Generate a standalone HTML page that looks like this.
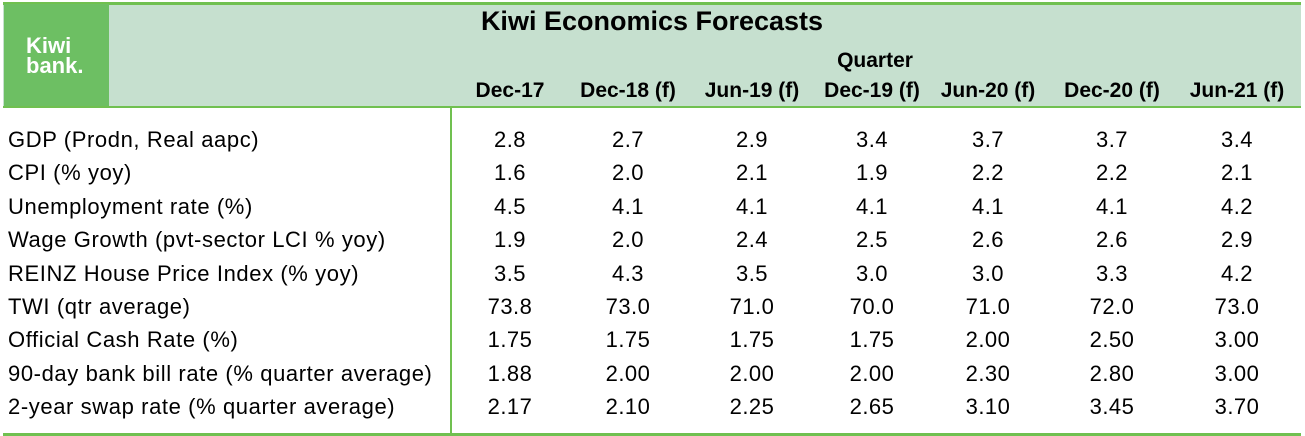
<!DOCTYPE html>
<html><head><meta charset="utf-8"><style>
body{margin:0;width:1305px;height:436px;background:#fff;position:relative;overflow:hidden;font-family:"Liberation Sans",sans-serif;color:#000}
.a{position:absolute;white-space:nowrap}
.c{transform:translateX(-50%)}
</style></head><body>
<div class="a" style="left:3px;top:3px;width:1298px;height:103px;background:#c6e0cf"></div>
<div class="a" style="left:3px;top:2px;width:1298px;height:3px;background:#70c050"></div>
<div class="a" style="left:3px;top:106px;width:1298px;height:2px;background:#70c050"></div>
<div class="a" style="left:3px;top:433px;width:1298px;height:3px;background:#70c050"></div>
<div class="a" style="left:450px;top:107px;width:2px;height:327px;background:#70c050"></div>
<div class="a" style="left:4px;top:4px;width:105px;height:102px;background:#6dbf63"></div>
<div class="a" style="left:26px;top:36px;color:#fff;font-weight:bold;font-size:22px;line-height:20px">Kiwi<br>bank.</div>
<div class="a c" style="left:652px;top:6px;font-weight:bold;font-size:27px">Kiwi Economics Forecasts</div>
<div class="a c" style="left:875px;top:49px;font-weight:bold;font-size:21px">Quarter</div>
<div id="t"></div>
<script>
const periods=["Dec-17","Dec-18 (f)","Jun-19 (f)","Dec-19 (f)","Jun-20 (f)","Dec-20 (f)","Jun-21 (f)"];
const indicators=["GDP (Prodn, Real aapc)","CPI (% yoy)","Unemployment rate (%)","Wage Growth (pvt-sector LCI % yoy)","REINZ House Price Index (% yoy)","TWI (qtr average)","Official Cash Rate (%)","90-day bank bill rate (% quarter average)","2-year swap rate (% quarter average)"];
const values=[
["2.8","2.7","2.9","3.4","3.7","3.7","3.4"],
["1.6","2.0","2.1","1.9","2.2","2.2","2.1"],
["4.5","4.1","4.1","4.1","4.1","4.1","4.2"],
["1.9","2.0","2.4","2.5","2.6","2.6","2.9"],
["3.5","4.3","3.5","3.0","3.0","3.3","4.2"],
["73.8","73.0","71.0","70.0","71.0","72.0","73.0"],
["1.75","1.75","1.75","1.75","2.00","2.50","3.00"],
["1.88","2.00","2.00","2.00","2.30","2.80","3.00"],
["2.17","2.10","2.25","2.65","3.10","3.45","3.70"]];
const colX=[510,628,752,872,988,1112,1237];
const t=document.getElementById('t');
function mk(txt,x,y,cls,st){const d=document.createElement('div');d.className='a '+cls;d.textContent=txt;d.style.left=x+'px';d.style.top=y+'px';d.style.cssText+=st;t.appendChild(d);return d;}
periods.forEach((p,i)=>{const d=mk(p,colX[i],79,'c','font-weight:bold;font-size:21px');

});
indicators.forEach((r,j)=>{const y=127+j*33.4;
const d=mk(r,8,y,'','font-size:22px;letter-spacing:0.6px');


values[j].forEach((v,i)=>{const c=mk(v,colX[i],y,'c','font-size:22px;letter-spacing:0.5px');

});});
</script>
</body></html>
